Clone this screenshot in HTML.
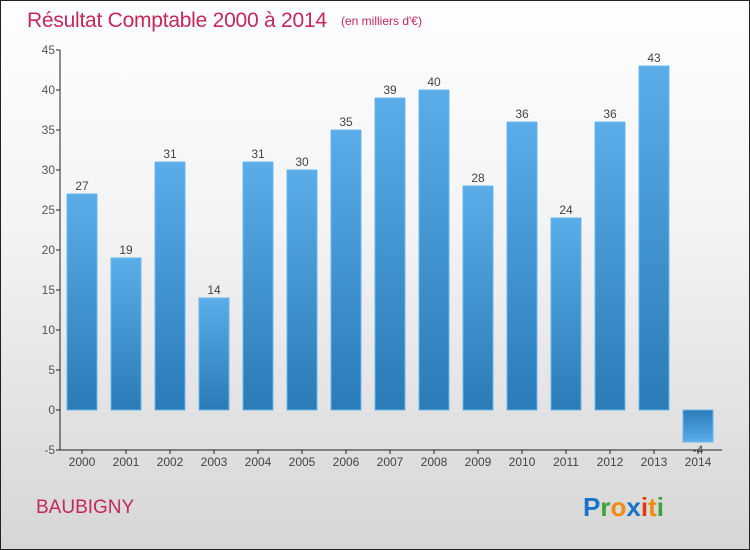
<!DOCTYPE html>
<html><head><meta charset="utf-8"><style>
body{margin:0;}
#wrap{position:relative;width:748px;height:548px;border:1px solid #222;background:linear-gradient(#fefefe,#f4f4f4 40%,#d6d6d6);font-family:"Liberation Sans",sans-serif;overflow:hidden}
</style></head><body>
<div id="wrap">
<svg id="chart" width="748" height="548">
<text x="26" y="26" font-size="21" fill="#c4285a" textLength="300">Résultat Comptable 2000 à 2014</text>
<text x="340" y="24" font-size="12" fill="#c4285a">(en milliers d'€)</text>
<text x="35" y="512" font-size="19" fill="#c4285a">BAUBIGNY</text>
<g font-size="26" font-weight="bold" font-family="'Liberation Sans',sans-serif">
<text x="582" y="515"><tspan fill="#1a73c8">P</tspan><tspan fill="#3aa33a">r</tspan><tspan fill="#f08a10">o</tspan><tspan fill="#1a73c8">x</tspan><tspan fill="#e03a10">i</tspan><tspan fill="#f08a10">t</tspan><tspan fill="#3aa33a">i</tspan></text></g>
<defs>
<linearGradient id="gp" x1="0" y1="0" x2="0" y2="1"><stop offset="0" stop-color="#5aade8"/><stop offset="1" stop-color="#2a7bb8"/></linearGradient>
<linearGradient id="gn" x1="0" y1="0" x2="0" y2="1"><stop offset="0" stop-color="#2a7bb8"/><stop offset="1" stop-color="#5aade8"/></linearGradient>
</defs>
<g id="plot"></g>
</svg>
</div>
<script>
const years=["2000","2001","2002","2003","2004","2005","2006","2007","2008","2009","2010","2011","2012","2013","2014"];
const values=[27,19,31,14,31,30,35,39,40,28,36,24,36,43,-4];
const yTicks=[-5,0,5,10,15,20,25,30,35,40,45];
const NS="http://www.w3.org/2000/svg";
const g=document.getElementById('plot');
const x0=59,slot=44,yMin=-5,yMax=45,yTop=49,yBot=449;
function y(v){return yBot-(v-yMin)/(yMax-yMin)*(yBot-yTop);}
function xc(i){return x0+slot*(i+0.5);}
function mk(t,a){const e=document.createElementNS(NS,t);for(const k in a)e.setAttribute(k,a[k]);g.appendChild(e);return e;}
years.forEach((yr,i)=>{
 const v=values[i],cx=xc(i);
 const r=mk('rect',{x:cx-15,y:Math.min(y(v),y(0)),width:30,height:Math.abs(y(v)-y(0)),fill:v>=0?'url(#gp)':'url(#gn)',stroke:'#6ab8ee','stroke-width':1});
 
 
 mk('line',{x1:cx,y1:yBot,x2:cx,y2:yBot+4,stroke:'#222'});
 const l=mk('text',{x:cx,y:yBot+16,'text-anchor':'middle','font-size':12,fill:'#444'});
 l.textContent=yr;
 
 
 const vl=mk('text',{x:cx,y:v>=0?y(v)-4:y(v)+12,'text-anchor':'middle','font-size':12,fill:'#444'});
 vl.textContent=v;
 
 
});
const ax=mk('line',{x1:x0,y1:yTop,x2:x0,y2:yBot,stroke:'#222'});


const bx=mk('line',{x1:x0,y1:yBot,x2:x0+slot*years.length+2,y2:yBot,stroke:'#222'});


yTicks.forEach(v=>{
 mk('line',{x1:x0-4,y1:y(v),x2:x0,y2:y(v),stroke:'#222'});
 const t=mk('text',{x:x0-5,y:y(v)+4,'text-anchor':'end','font-size':12,fill:'#555'});
 t.textContent=v;
 
 
});
</script>
</body></html>
